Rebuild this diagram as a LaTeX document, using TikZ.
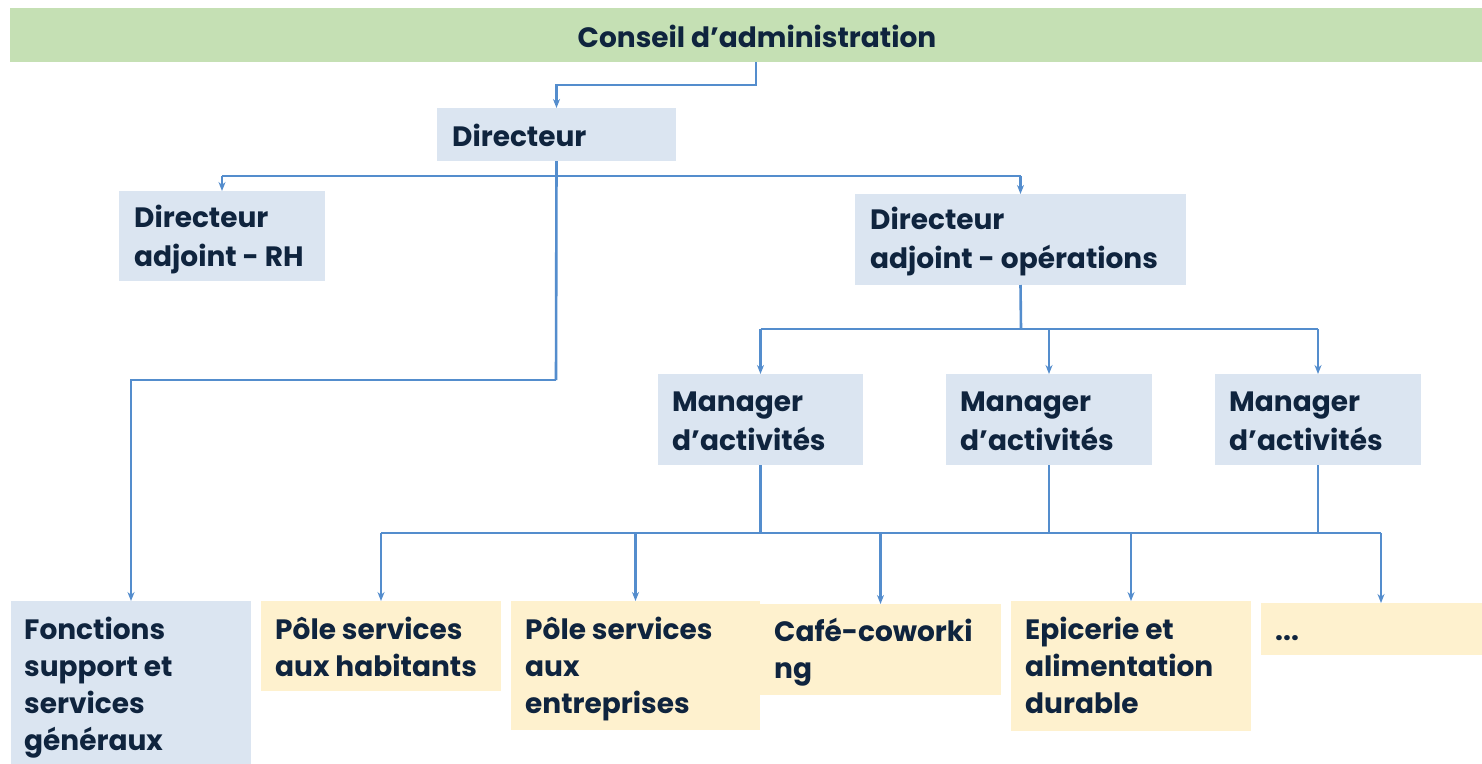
\documentclass[tikz,border=0pt]{standalone}
\usepackage{fontspec}
\setmainfont{Poppins}
\usetikzlibrary{arrows.meta}
\definecolor{lineblue}{RGB}{84,141,205}
\definecolor{boxblue}{RGB}{219,229,241}
\definecolor{boxyel}{RGB}{254,241,206}
\definecolor{boxgreen}{RGB}{197,224,180}
\definecolor{navy}{RGB}{15,36,62}
\newcommand{\lns}[1]{\begin{tabular}[t]{@{}l@{}}#1\end{tabular}}
\tikzset{
  conn/.style={draw=lineblue, line width=2.6pt},
  arr/.style={conn, -{Stealth[length=9pt,width=7pt]}},
  boxbase/.style={draw=none, anchor=north west, inner sep=0pt, outer sep=0pt},
  bluebox/.style={boxbase, fill=boxblue},
  yelbox/.style={boxbase, fill=boxyel},
  greenbox/.style={boxbase, fill=boxgreen},
  txt/.style={anchor=base west, inner sep=0pt, text=navy, font=\fontsize{28}{39}\selectfont\bfseries},
  btxt/.style={txt, font=\fontsize{28}{37}\selectfont\bfseries},
}
\begin{document}
\begin{tikzpicture}[x=1pt,y=-1pt]
\useasboundingbox[fill=white] (0,0) rectangle (1482,763);
% boxes
\node[greenbox, minimum width=1480, minimum height=54] (ca) at (10,8) {};
\node[txt, anchor=base] (catxt) at (757,47) {Conseil d’administration};
\node[bluebox, minimum width=239, minimum height=53] (dir) at (437,108) {};
\node[txt] (dirtxt) at ([shift={(15,38)}]dir.north west) {Directeur};
\node[bluebox, minimum width=206, minimum height=90] (rh) at (119,191) {};
\node[txt] (rhtxt) at ([shift={(15,36)}]rh.north west) {\lns{Directeur\\adjoint - RH}};
\node[bluebox, minimum width=331, minimum height=91] (ops) at (855,194) {};
\node[txt] (opstxt) at ([shift={(15,35)}]ops.north west) {\lns{Directeur\\adjoint - opérations}};
\node[bluebox, minimum width=205, minimum height=91] (m1) at (658,374) {};
\node[txt] (m1txt) at ([shift={(14,37)}]m1.north west) {\lns{Manager\\d’activités}};
\node[bluebox, minimum width=206, minimum height=91] (m2) at (946,374) {};
\node[txt] (m2txt) at ([shift={(14,37)}]m2.north west) {\lns{Manager\\d’activités}};
\node[bluebox, minimum width=206, minimum height=91] (m3) at (1215,374) {};
\node[txt] (m3txt) at ([shift={(14,37)}]m3.north west) {\lns{Manager\\d’activités}};
\node[bluebox, minimum width=240, minimum height=170] (fon) at (11,601) {};
\node[btxt] (fontxt) at ([shift={(13,38)}]fon.north west) {\lns{Fonctions\\support et\\services\\généraux}};
\node[yelbox, minimum width=240, minimum height=90] (hab) at (261,601) {};
\node[btxt] (habtxt) at ([shift={(14,38)}]hab.north west) {\lns{Pôle services\\aux habitants}};
\node[yelbox, minimum width=249, minimum height=129] (ent) at (511,601) {};
\node[btxt] (enttxt) at ([shift={(14,38)}]ent.north west) {\lns{Pôle services\\aux\\entreprises}};
\node[yelbox, minimum width=241, minimum height=91] (caf) at (760,604) {};
\node[btxt] (caftxt) at ([shift={(14,37)}]caf.north west) {\lns{Café-coworki\\ng}};
\node[yelbox, minimum width=240, minimum height=130] (epi) at (1011,601) {};
\node[btxt] (epitxt) at ([shift={(14,38)}]epi.north west) {\lns{Epicerie et\\alimentation\\durable}};
\node[yelbox, minimum width=240, minimum height=52] (dots) at (1261,603) {};
\node[btxt] (dotstxt) at ([shift={(14,37)}]dots.north west) {...};
% connectors
\coordinate (j0) at (756,85);
\coordinate (j1) at (556,176);
\coordinate (j2) at (556,380);
\coordinate (j3) at (1021,329);
\coordinate (bus) at (0,533);
\draw[arr] (ca.south -| j0) -- (j0) -| (dir.north);
\draw[conn] (dir.south) -- (j2);
\draw[arr] (rh.north |- j1) -- (rh.north);
\draw[conn] (rh.north |- j1) -- (ops.north |- j1);
\draw[arr] (ops.north |- j1) -- (ops.north);
\draw[arr] (j2) -| (fon.north);
\draw[conn] (ops.south) -- (j3);
\draw[arr] (m1.north |- j3) -- (m1.north);
\draw[arr] (m2.north |- j3) -- (m2.north);
\draw[arr] (m3.north |- j3) -- (m3.north);
\draw[conn] (m1.north |- j3) -- (m3.north |- j3);
\draw[conn] (m1.south) -- (m1.south |- bus);
\draw[conn] (m2.south) -- (m2.south |- bus);
\draw[conn] (m3.south) -- (m3.south |- bus);
\draw[conn] (hab.north |- bus) -- (dots.north |- bus);
\draw[arr] (hab.north |- bus) -- (hab.north);
\draw[arr] (ent.north |- bus) -- (ent.north);
\draw[arr] (caf.north |- bus) -- (caf.north);
\draw[arr] (epi.north |- bus) -- (epi.north);
\draw[arr] (dots.north |- bus) -- (dots.north);
\end{tikzpicture}
\end{document}
